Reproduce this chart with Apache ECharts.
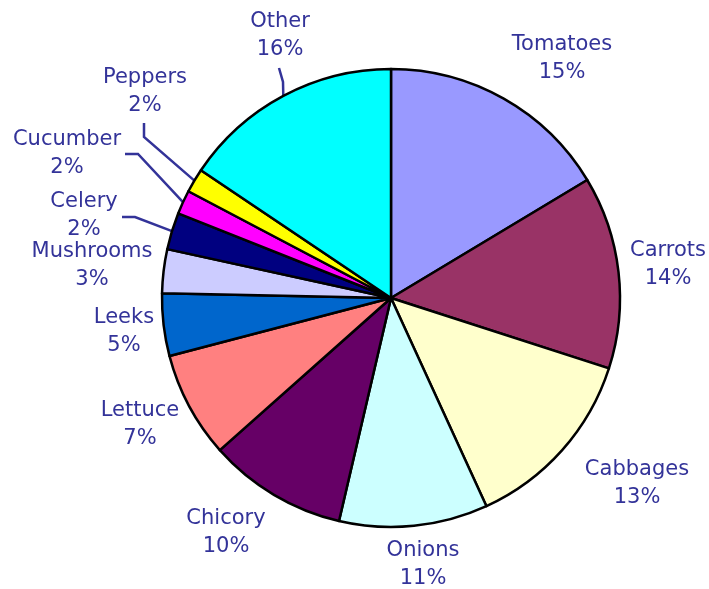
<!DOCTYPE html>
<html>
<head>
<meta charset="utf-8">
<script src="https://cdn.jsdelivr.net/npm/echarts@6/dist/echarts.min.js"></script>
<style>
html,body{margin:0;padding:0;background:#fff;}
#chart{width:709px;height:589px;}
</style>
</head>
<body>
<div id="chart"></div>
<script>
// Data
var categories = ['Tomatoes','Carrots','Cabbages','Onions','Chicory','Lettuce','Leeks','Mushrooms','Celery','Cucumber','Peppers','Other'];
var values = [16.4, 13.6, 13.2, 10.5, 9.8, 7.5, 4.4, 3.1, 2.6, 1.7, 1.7, 15.6];
var shownPercents = [15, 14, 13, 11, 10, 7, 5, 3, 2, 2, 2, 16];
var colors = ['#9999FF','#993366','#FFFFCC','#CCFFFF','#660066','#FF8080','#0066CC','#CCCCFF','#000080','#FF00FF','#FFFF00','#00FFFF'];

// Layout (label placement, not data)
var CX = 391, CY = 298, R = 229;
var labelPos = {
  'Tomatoes': [562, 59], 'Carrots': [668, 265], 'Cabbages': [637, 484], 'Onions': [423, 565],
  'Chicory': [226, 533], 'Lettuce': [140, 425], 'Leeks': [124, 332], 'Mushrooms': [92, 266],
  'Celery': [84, 216], 'Cucumber': [67, 154], 'Peppers': [145, 92], 'Other': [280, 36]
};
var leaderEnds = {
  'Peppers': [[144, 137], [144, 123]],
  'Cucumber': [[138, 154], [125, 154]],
  'Celery': [[135, 217], [122, 217]],
  'Other': [[283, 82], [279, 68]]
};

var total = values.reduce(function(a,b){return a+b;}, 0);
var midAngles = [];
var acc = 0;
values.forEach(function(v){ midAngles.push((acc + v/2) / total * 2 * Math.PI); acc += v; });

var chart = echarts.init(document.getElementById('chart'));
chart.setOption({
  backgroundColor: '#ffffff',
  animation: false,
  series: [{
    type: 'pie',
    center: [CX, CY],
    radius: R,
    startAngle: 90,
    clockwise: true,
    avoidLabelOverlap: false,
    itemStyle: { borderColor: '#000000', borderWidth: 2.5 },
    emphasis: { disabled: true },
    label: {
      show: true,
      position: 'outside',
      color: '#333399',
      fontFamily: 'DejaVu Sans',
      fontSize: 21,
      lineHeight: 28,
      align: 'center',
      formatter: function(p){ return p.name + '\n' + shownPercents[p.dataIndex] + '%'; }
    },
    labelLine: { show: false, lineStyle: { color: '#333399', width: 2.5 } },
    labelLayout: function(p){
      var name = categories[p.dataIndex];
      var pos = labelPos[name];
      var res = { x: pos[0], y: pos[1], align: 'center', verticalAlign: 'middle' };
      if (leaderEnds[name]) {
        var a = midAngles[p.dataIndex];
        var rim = [CX + R * Math.sin(a), CY - R * Math.cos(a)];
        res.labelLinePoints = [rim].concat(leaderEnds[name]);
      }
      return res;
    },
    data: categories.map(function(c, i){
      return {
        name: c,
        value: values[i],
        itemStyle: { color: colors[i] },
        labelLine: { show: !!leaderEnds[c], length: 10, length2: 10 }
      };
    })
  }]
});
</script>
</body>
</html>
